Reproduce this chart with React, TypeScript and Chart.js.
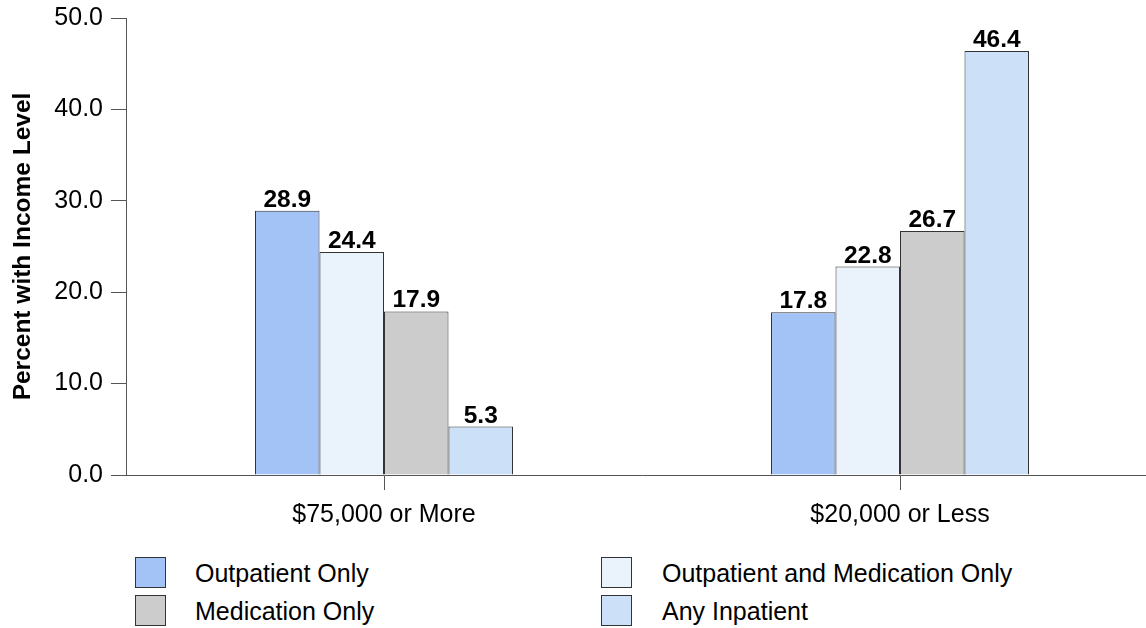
import React, { useEffect, useRef } from "react";
import { Chart, registerables } from "chart.js";

Chart.register(...registerables);

const categories = ["$75,000 or More", "$20,000 or Less"];
const seriesNames = [
  "Outpatient Only",
  "Outpatient and Medication Only",
  "Medication Only",
  "Any Inpatient",
];
const outpatientOnly = [28.9, 17.8];
const outpatientAndMedication = [24.4, 22.8];
const medicationOnly = [17.9, 26.7];
const anyInpatient = [5.3, 46.4];
const seriesColors = ["#a3c3f7", "#eaf2fb", "#cccccc", "#cce0f8"];
const yTicks = [0, 10, 20, 30, 40, 50];
const yTitle = "Percent with Income Level";

const FONT = "'Liberation Sans', Arial, sans-serif";

const valueLabels = {
  id: "valueLabels",
  afterDatasetsDraw(chart: any) {
    const ctx = chart.ctx;
    ctx.save();
    ctx.font = `bold 24.5px ${FONT}`;
    ctx.fillStyle = "#000";
    ctx.textAlign = "center";
    ctx.textBaseline = "alphabetic";
    chart.data.datasets.forEach((ds: any, i: number) => {
      const meta = chart.getDatasetMeta(i);
      meta.data.forEach((bar: any, j: number) => {
        ctx.fillText(Number(ds.data[j]).toFixed(1), bar.x, bar.y - 4);
      });
    });
    ctx.restore();
  },
};

export default function App() {
  const ref = useRef<HTMLCanvasElement>(null);
  useEffect(() => {
    document.body.style.overflow = "hidden";
    const data = [outpatientOnly, outpatientAndMedication, medicationOnly, anyInpatient];
    const chart = new Chart(ref.current!, {
      type: "bar",
      data: {
        labels: categories,
        datasets: data.map((d, i) => ({
          label: seriesNames[i],
          data: d,
          backgroundColor: seriesColors[i],
          borderColor: "#333333",
          borderWidth: 1,
          barPercentage: 1,
          categoryPercentage: 0.5,
        })),
      },
      options: {
        animation: false,
        responsive: false,
        maintainAspectRatio: false,
        layout: { padding: { top: 18, right: 2, left: 0, bottom: 0 } },
        plugins: { legend: { display: false }, tooltip: { enabled: false } },
        scales: {
          x: {
            offset: true,
            grid: {
              display: true,
              drawOnChartArea: false,
              drawTicks: true,
              tickLength: 15,
              offset: false,
              color: "#555555",
            },
            border: { display: true, color: "#555555", width: 1 },
            ticks: {
              color: "#000",
              padding: 10,
              font: { family: FONT, size: 25 },
            },
            afterFit: (s: any) => {
              s.height = 65;
              s.paddingLeft = 0;
              s.paddingRight = 0;
            },
          },
          y: {
            min: 0,
            max: 50,
            afterBuildTicks: (s: any) => {
              s.ticks = yTicks.map((v) => ({ value: v }));
            },
            grid: {
              display: true,
              drawOnChartArea: false,
              drawTicks: true,
              tickLength: 15,
              color: "#555555",
            },
            border: { display: true, color: "#555555", width: 1 },
            ticks: {
              color: "#000",
              padding: 8,
              font: { family: FONT, size: 25 },
              callback: (v: any) => Number(v).toFixed(1),
            },
            title: {
              display: true,
              text: yTitle,
              color: "#000",
              font: { family: FONT, size: 24.5, weight: "bold" },
              padding: { top: 9, bottom: 0 },
            },
            afterFit: (s: any) => {
              s.width = 126;
              s.paddingTop = 0;
              s.paddingBottom = 0;
            },
          },
        },
      },
      plugins: [valueLabels],
    });
    return () => chart.destroy();
  }, []);

  const sw = (i: number, left: number, top: number) => (
    <div
      key={"s" + i}
      style={{
        position: "absolute",
        left,
        top,
        width: 29,
        height: 29,
        background: seriesColors[i],
        border: "1px solid #333",
      }}
    />
  );
  const tx = (i: number, left: number, top: number) => (
    <div
      key={"t" + i}
      style={{
        position: "absolute",
        left,
        top,
        fontFamily: FONT,
        fontSize: 25,
        lineHeight: "30px",
        color: "#000",
        whiteSpace: "nowrap",
      }}
    >
      {seriesNames[i]}
    </div>
  );

  return (
    <div style={{ position: "absolute", left: 0, top: 0, width: 1146, height: 628, overflow: "hidden", background: "#fff" }}>
      <canvas ref={ref} width={1160} height={540} style={{ position: "absolute", left: 0, top: 0 }} />
      {sw(0, 135, 557)}
      {tx(0, 195, 558)}
      {sw(2, 135, 595)}
      {tx(2, 195, 596)}
      {sw(1, 601, 557)}
      {tx(1, 662, 558)}
      {sw(3, 601, 595)}
      {tx(3, 662, 596)}
    </div>
  );
}
